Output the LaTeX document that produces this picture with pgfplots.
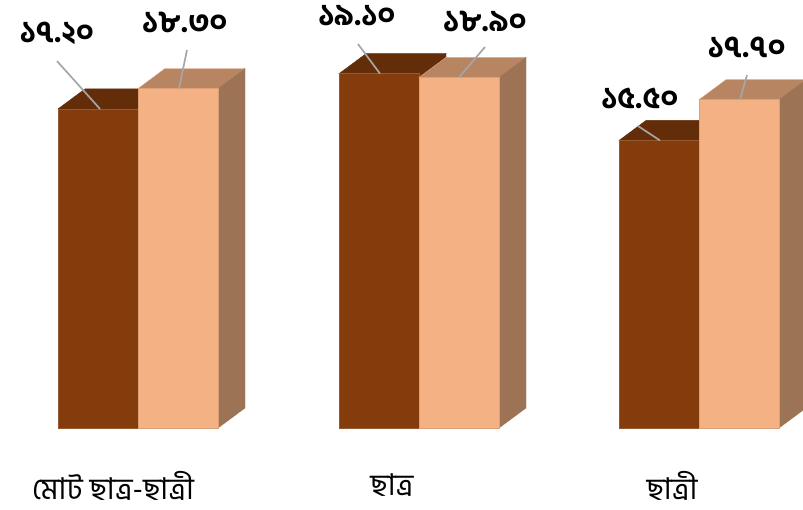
\documentclass[border=0pt]{standalone}
\usepackage{fontspec}
\usepackage{pgfplots}
\pgfplotsset{compat=1.18}
\newfontfamily\bn[Script=Bengali]{Hind Siliguri}
\newfontfamily\bnb[Script=Bengali]{Hind Siliguri Bold}
\definecolor{dkF}{HTML}{843C0C}
\definecolor{dkT}{HTML}{632D09}
\definecolor{ltF}{HTML}{F4B183}
\definecolor{ltT}{HTML}{B78562}
\definecolor{ltS}{HTML}{9C7355}
\definecolor{lead}{HTML}{A6A6A6}
\pgfplotsset{
  dfront/.style={fill=dkF,draw=dkF!85!white,line width=0.6pt},
  dtop/.style={fill=dkT,draw=dkT,line width=0.4pt},
  lfront/.style={fill=ltF,draw=ltF!90!black,line width=0.6pt},
  ltop/.style={fill=ltT,draw=ltF!80!ltT,line width=0.4pt},
  lside/.style={fill=ltS,draw=ltS,line width=0.4pt},
  leader/.style={draw=lead,line width=1.7pt},
}
\begin{document}
\begin{tikzpicture}
\begin{axis}[
  scale only axis, width=803pt, height=509pt,
  xmin=0, xmax=803, ymin=-4.367, ymax=23.073,
  hide axis, clip=true, clip mode=individual,
]
% Group 1
\addplot[dtop] coordinates {(58,17.2)(85,18.28)(165,18.28)(138,17.2)} --cycle;
\addplot[dtop] coordinates {(138,0)(165,1.08)(165,18.28)(138,17.2)} --cycle;
\addplot[dfront] coordinates {(58,0)(138,0)(138,17.2)(58,17.2)} --cycle;
\addplot[ltop] coordinates {(138,18.3)(165,19.38)(245,19.38)(218,18.3)} --cycle;
\addplot[lside] coordinates {(218,0)(245,1.08)(245,19.38)(218,18.3)} --cycle;
\addplot[lfront] coordinates {(138,0)(218,0)(218,18.3)(138,18.3)} --cycle;
% Group 2
\addplot[dtop] coordinates {(339,19.1)(366,20.18)(446,20.18)(419,19.1)} --cycle;
\addplot[dtop] coordinates {(419,0)(446,1.08)(446,20.18)(419,19.1)} --cycle;
\addplot[dfront] coordinates {(339,0)(419,0)(419,19.1)(339,19.1)} --cycle;
\addplot[ltop] coordinates {(419,18.9)(446,19.98)(526,19.98)(499,18.9)} --cycle;
\addplot[lside] coordinates {(499,0)(526,1.08)(526,19.98)(499,18.9)} --cycle;
\addplot[lfront] coordinates {(419,0)(499,0)(499,18.9)(419,18.9)} --cycle;
% Group 3
\addplot[dtop] coordinates {(619,15.5)(646,16.58)(726,16.58)(699,15.5)} --cycle;
\addplot[dfront] coordinates {(619,0)(699,0)(699,15.5)(619,15.5)} --cycle;
\addplot[ltop] coordinates {(699,17.7)(726,18.78)(806,18.78)(779,17.7)} --cycle;
\addplot[lside] coordinates {(779,0)(806,1.08)(806,18.78)(779,17.7)} --cycle;
\addplot[lfront] coordinates {(699,0)(779,0)(779,17.7)(699,17.7)} --cycle;
% Leader lines
\addplot[leader] coordinates {(57,19.78)(100,17.2)};
\addplot[leader] coordinates {(187,20.38)(179,18.3)};
\addplot[leader] coordinates {(358,20.70)(380,19.1)};
\addplot[leader] coordinates {(485,20.54)(459,18.9)};
\addplot[leader] coordinates {(638,16.28)(660,15.5)};
\addplot[leader] coordinates {(747,19.03)(740,17.7)};
% Value labels
\tikzset{val/.style={inner sep=0pt,font=\bnb\fontsize{30}{30}\selectfont},cat/.style={inner sep=0pt,font=\bn\fontsize{30}{30}\selectfont}}
\node[val] at (axis cs:57,21.29) {১৭.২০};
\node[val] at (axis cs:185,21.89) {১৮.৩০};
\node[val] at (axis cs:357,22.21) {১৯.১০};
\node[val] at (axis cs:485,21.94) {১৮.৯০};
\node[val] at (axis cs:640,17.74) {১৫.৫০};
\node[val] at (axis cs:747,20.54) {১৭.৭০};
% Category labels
\node[cat] at (axis cs:113,-3.1) {মোট ছাত্র-ছাত্রী};
\node[cat] at (axis cs:392,-3.1) {ছাত্র};
\node[cat] at (axis cs:672,-3.1) {ছাত্রী};
\path (axis cs:0,-4.367) rectangle (axis cs:803,23.073);
\end{axis}
\end{tikzpicture}
\end{document}
